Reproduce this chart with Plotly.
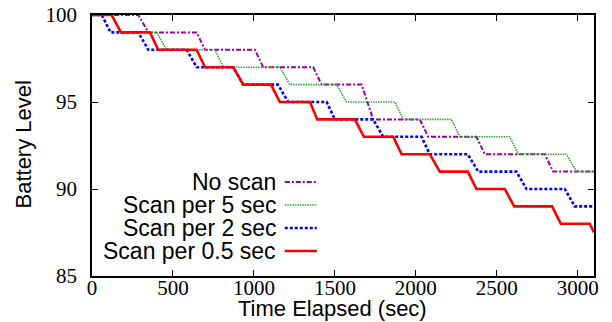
import plotly.graph_objects as go

# ---- data ----
noscan_t = [0, 286, 348, 646, 698, 1006, 1057, 1366, 1418, 1665, 1736, 2025, 2076, 2374, 2426, 2796, 2848, 3100]
noscan_v = [100, 100, 99, 99, 98, 98, 97, 97, 96, 96, 94, 94, 93, 93, 92, 92, 91, 91]

scan5_t = [0, 121, 179, 399, 461, 759, 811, 1160, 1222, 1510, 1572, 1870, 1922, 2220, 2272, 2580, 2632, 2930, 2992, 3100]
scan5_v = [100, 100, 99, 99, 98, 98, 97, 97, 96, 96, 95, 95, 94, 94, 93, 93, 92, 92, 91, 91]

scan2_t = [0, 60, 115, 286, 348, 585, 646, 872, 934, 1148, 1212, 1449, 1500, 1736, 1798, 2035, 2086, 2320, 2385, 2621, 2683, 2920, 2981, 3100]
scan2_v = [100, 100, 99, 99, 98, 98, 97, 97, 96, 96, 95, 95, 94, 94, 93, 93, 92, 92, 91, 91, 90, 90, 89, 89]

scan05_t = [0, 121, 179, 358, 409, 646, 698, 872, 934, 1105, 1160, 1346, 1391, 1623, 1679, 1860, 1912, 2086, 2148, 2321, 2374, 2549, 2607, 2841, 2895, 3074, 3100]
scan05_v = [100, 100, 99, 99, 98, 98, 97, 97, 96, 96, 95, 95, 94, 94, 93, 93, 92, 92, 91, 91, 90, 90, 89, 89, 88, 88, 87.5]

series_names = ["No scan", "Scan per 5 sec", "Scan per 2 sec", "Scan per 0.5 sec"]
x_ticks = [0, 500, 1000, 1500, 2000, 2500, 3000]
y_ticks = [85, 90, 95, 100]
x_title = "Time Elapsed (sec)"
y_title = "Battery Level"

styles = [
    dict(color="#990099", width=2, dash="5px,2px,2px,2px"),
    dict(color="#3a9e3a", width=1.6, dash="1.5px,1px"),
    dict(color="#0000ff", width=2.6, dash="3px,2px"),
    dict(color="#ff0000", width=2.6, dash="solid"),
]
series = [(noscan_t, noscan_v), (scan5_t, scan5_v), (scan2_t, scan2_v), (scan05_t, scan05_v)]

SANS = "Liberation Sans, Arial, sans-serif"
SERIF = "Liberation Serif, Times New Roman, serif"

fig = go.Figure()
for (t, v), name, st in zip(series, series_names, styles):
    fig.add_trace(go.Scatter(x=t, y=v, mode="lines", name=name, line=st, showlegend=False))

# legend emulation: text right-aligned, sample line to the right
leg_y = [0.360, 0.272, 0.184, 0.096]
for name, st, yy in zip(series_names, styles, leg_y):
    fig.add_annotation(xref="paper", yref="paper", x=0.369, y=yy, text=name, showarrow=False,
                       xanchor="right", yanchor="middle", borderpad=0,
                       font=dict(family=SANS, size=23, color="black"))
    fig.add_shape(type="line", xref="paper", yref="paper", x0=0.384, x1=0.448, y0=yy, y1=yy, line=st)

# axis titles
fig.add_annotation(xref="paper", yref="paper", x=0.5, y=0, xshift=-11, yshift=-32, text=x_title,
                   showarrow=False, xanchor="center", yanchor="middle", borderpad=0,
                   font=dict(family=SANS, size=22, color="black"))
fig.add_annotation(xref="paper", yref="paper", x=0, y=0.5, xshift=-69, yshift=1, text=y_title,
                   showarrow=False, textangle=-90, xanchor="center", yanchor="middle", borderpad=0,
                   font=dict(family=SANS, size=22, color="black"))

axis_common = dict(showline=True, mirror="ticks", linecolor="black", linewidth=1.5,
                   ticks="inside", ticklen=6, tickcolor="black", tickwidth=1,
                   showgrid=False, zeroline=False, automargin=False, ticklabeloverflow="allow",
                   tickfont=dict(family=SERIF, size=21, color="black"))

fig.update_xaxes(range=[0, 3100], tickvals=x_ticks, ticktext=[str(v) for v in x_ticks],
                 ticklabelstandoff=-8, **axis_common)
fig.update_yaxes(range=[85, 100], tickvals=y_ticks, ticktext=[str(v) for v in y_ticks],
                 ticklabelstandoff=9, **axis_common)

fig.update_layout(width=612, height=322, margin=dict(l=92, r=18, t=15, b=46),
                  paper_bgcolor="white", plot_bgcolor="white", showlegend=False)

fig.write_html("out.html", config={"displayModeBar": False},
               post_script="document.body.style.margin='0px';")
